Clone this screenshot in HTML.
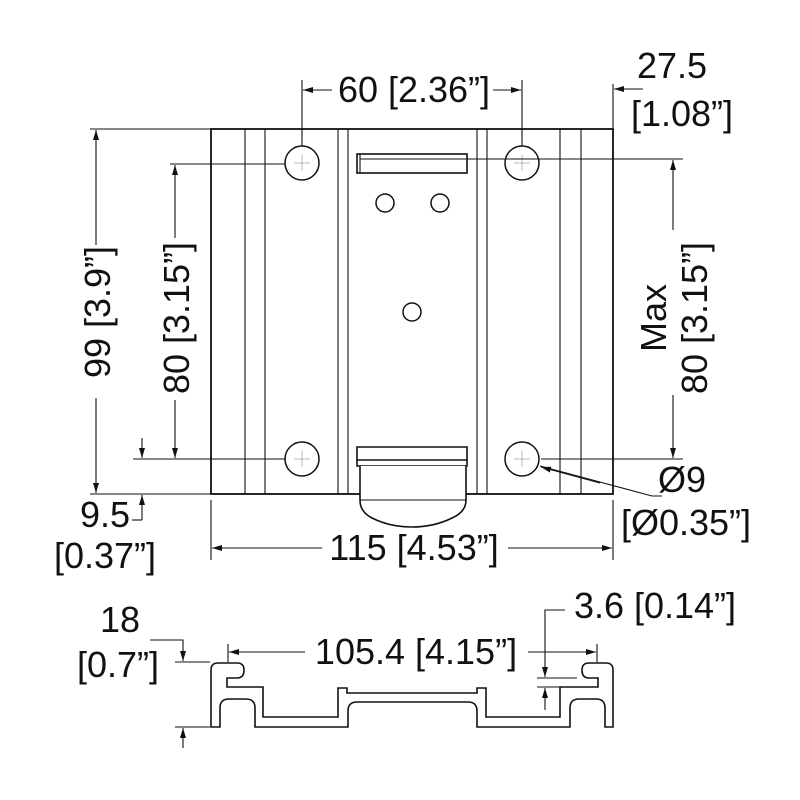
<!DOCTYPE html>
<html><head><meta charset="utf-8"><style>
html,body{margin:0;padding:0;background:#fff;}
svg{display:block;}
text{font-family:"Liberation Sans",Arial,sans-serif;font-size:36px;fill:#111;}
</style></head><body>
<svg width="800" height="800" viewBox="0 0 800 800" xmlns="http://www.w3.org/2000/svg">
<defs>
<marker id="a" markerWidth="10" markerHeight="6" refX="10" refY="3" orient="auto" markerUnits="userSpaceOnUse"><path d="M0,0 L10,3 L0,6 z" fill="#111"/></marker>
</defs>
<g stroke="#111" fill="none" stroke-width="1.1">
<rect x="211" y="129" width="402" height="365" stroke-width="1.8"/>
<line x1="245" y1="129" x2="245" y2="494"/>
<line x1="265" y1="129" x2="265" y2="494"/>
<line x1="338" y1="129" x2="338" y2="494"/>
<line x1="348" y1="129" x2="348" y2="494"/>
<line x1="477" y1="129" x2="477" y2="494"/>
<line x1="487" y1="129" x2="487" y2="494"/>
<line x1="560" y1="129" x2="560" y2="494"/>
<line x1="581" y1="129" x2="581" y2="494"/>
<g stroke-width="1.5" fill="#fff">
<circle cx="302" cy="163" r="17"/><circle cx="522" cy="163" r="17"/>
<circle cx="302" cy="459" r="17"/><circle cx="522" cy="459" r="17"/>
<circle cx="385" cy="203" r="9"/><circle cx="440" cy="203" r="9"/>
<circle cx="412" cy="312" r="9"/>
</g>
<g stroke="#999" stroke-width="0.7">
<line x1="294" y1="163" x2="310" y2="163"/><line x1="302" y1="155" x2="302" y2="171"/>
<line x1="514" y1="163" x2="530" y2="163"/><line x1="522" y1="155" x2="522" y2="171"/>
<line x1="294" y1="459" x2="310" y2="459"/><line x1="302" y1="451" x2="302" y2="467"/>
<line x1="514" y1="459" x2="530" y2="459"/><line x1="522" y1="451" x2="522" y2="467"/>
</g>
<rect x="357" y="154" width="110" height="19" stroke-width="1.6" fill="#fff"/>
<line x1="360" y1="159" x2="467" y2="159"/>
<line x1="360" y1="154" x2="360" y2="173"/>
<path d="M357,447 H467 V466 H357 Z" stroke-width="1.6" fill="#fff"/>
<line x1="357" y1="460" x2="467" y2="460" stroke-width="1.6"/>
<line x1="360" y1="468" x2="466" y2="468" stroke-dasharray="8,6"/>
<path d="M360,466 V500 Q360,512 372,518 Q390,527 412,527 Q434,527 452,518 Q466,512 466,500 V466" stroke-width="1.6" fill="#fff"/>
<line x1="360" y1="500" x2="466" y2="500"/>
<line x1="302" y1="146" x2="302" y2="80"/><line x1="522" y1="146" x2="522" y2="80"/>
<line x1="332" y1="90" x2="303" y2="90" marker-end="url(#a)"/>
<line x1="493" y1="90" x2="521" y2="90" marker-end="url(#a)"/>
<line x1="613" y1="129" x2="613" y2="84"/>
<line x1="643" y1="89" x2="614" y2="89" marker-end="url(#a)"/>
<line x1="467" y1="159" x2="683" y2="159"/>
<line x1="541" y1="459" x2="683" y2="459"/>
<line x1="673" y1="230" x2="673" y2="160" marker-end="url(#a)"/>
<line x1="673" y1="395" x2="673" y2="458" marker-end="url(#a)"/>
<path d="M662,496 H652 L540,466" />
<line x1="600" y1="483" x2="541" y2="467" marker-end="url(#a)"/>
<line x1="90" y1="129" x2="211" y2="129"/>
<line x1="90" y1="494" x2="211" y2="494"/>
<line x1="96" y1="245" x2="96" y2="130" marker-end="url(#a)"/>
<line x1="96" y1="398" x2="96" y2="493" marker-end="url(#a)"/>
<line x1="170" y1="164" x2="285" y2="164"/>
<line x1="133" y1="459" x2="285" y2="459"/>
<line x1="175" y1="238" x2="175" y2="165" marker-end="url(#a)"/>
<line x1="175" y1="400" x2="175" y2="458" marker-end="url(#a)"/>
<line x1="142" y1="438" x2="142" y2="458" marker-end="url(#a)"/>
<line x1="142" y1="520" x2="142" y2="495" marker-end="url(#a)"/>
<line x1="132" y1="520" x2="142" y2="520"/>
<line x1="211" y1="500" x2="211" y2="560"/>
<line x1="613" y1="500" x2="613" y2="560"/>
<line x1="322" y1="548" x2="212" y2="548" marker-end="url(#a)"/>
<line x1="508" y1="548" x2="612" y2="548" marker-end="url(#a)"/>
<path stroke-width="1.6" d="M211,727 V670 Q211,663 218,663 H237 Q244,663 244,670 Q244,678 237,678 H227 V687 H263 V717 H338 V688 H347 V693 H477 V688 H486 V717 H560 V687 H598 V678 H589 Q582,678 582,670 Q582,663 589,663 H606 Q613,663 613,670 V727 H605 V708 Q605,699 596,699 H579 Q570,699 570,708 V727 H477 V711 Q477,702 468,702 H357 Q348,702 348,711 V727 H255 V708 Q255,699 246,699 H229 Q220,699 220,708 V727 Z"/>
<line x1="228" y1="644" x2="228" y2="662"/><line x1="597" y1="644" x2="597" y2="662"/>
<line x1="305" y1="652" x2="229" y2="652" marker-end="url(#a)"/>
<line x1="528" y1="652" x2="596" y2="652" marker-end="url(#a)"/>
<path d="M150,640 H183 V661" marker-end="url(#a)"/>
<line x1="175" y1="662" x2="210" y2="662"/>
<line x1="175" y1="727" x2="210" y2="727"/>
<line x1="183" y1="748" x2="183" y2="728" marker-end="url(#a)"/>
<path d="M565,610 H545 V677" marker-end="url(#a)"/>
<line x1="537" y1="678" x2="577" y2="678"/>
<line x1="537" y1="687" x2="577" y2="687"/>
<line x1="545" y1="710" x2="545" y2="688" marker-end="url(#a)"/>
</g>
<text x="414" y="102" text-anchor="middle">60 [2.36”]</text>
<text x="672" y="78" text-anchor="middle">27.5</text>
<text x="682" y="126" text-anchor="middle">[1.08”]</text>
<text transform="translate(110,312) rotate(-90)" text-anchor="middle">99 [3.9”]</text>
<text transform="translate(189,318) rotate(-90)" text-anchor="middle">80 [3.15”]</text>
<text transform="translate(666,318) rotate(-90)" text-anchor="middle">Max</text>
<text transform="translate(707,318) rotate(-90)" text-anchor="middle">80 [3.15”]</text>
<text x="682" y="492" text-anchor="middle">Ø9</text>
<text x="686" y="535" text-anchor="middle">[Ø0.35”]</text>
<text x="105" y="527" text-anchor="middle">9.5</text>
<text x="105" y="568" text-anchor="middle">[0.37”]</text>
<text x="414" y="560" text-anchor="middle">115 [4.53”]</text>
<text x="120" y="632" text-anchor="middle">18</text>
<text x="118" y="677" text-anchor="middle">[0.7”]</text>
<text x="416" y="664" text-anchor="middle">105.4 [4.15”]</text>
<text x="655" y="618" text-anchor="middle">3.6 [0.14”]</text>
</svg>
</body></html>
